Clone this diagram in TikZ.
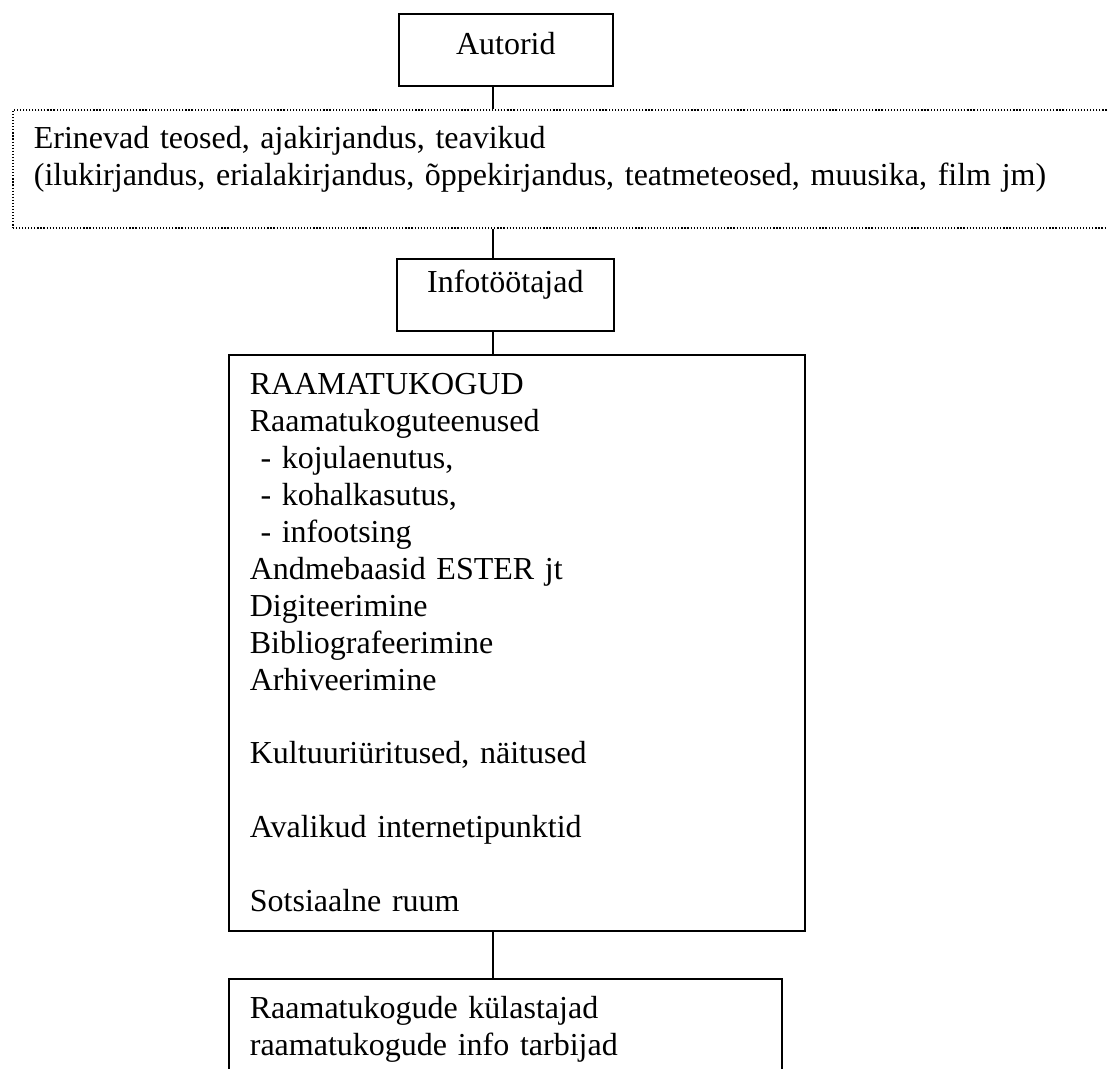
\documentclass[tikz,border=0pt]{standalone}
\usepackage{fontspec}
\setmainfont{Liberation Serif}

\begin{document}
\begin{tikzpicture}[x=0.375pt,y=-0.375pt]
        \tikzstyle{every node}=[font=\fontsize{12pt}{13.84pt}\selectfont, inner sep=0pt, line width=0.6pt]
        \tikzstyle{titlebox}=[draw, anchor=north west, align=center]
        \tikzstyle{listbox}=[draw, anchor=north west, align=left, inner xsep=7.9pt, text height=15pt]
        \clip (0,0) rectangle (1107,1068);
        \fill[white] (0,0) rectangle (1107,1068);

        \node[titlebox, minimum width=80.25pt, text height=15.4pt, text depth=11.6pt] (autorid) at (398,13) {Autorid};

        \node[listbox, dash pattern=on 0.45pt off 0.7pt, text width=410.95pt, text height=14.6pt, text depth=29.65pt] (teosed) at (12,109)
            {Erinevad teosed, ajakirjandus, teavikud\\(ilukirjandus, erialakirjandus, õppekirjandus, teatmeteosed, muusika, film jm)};

        \node[titlebox, minimum width=81.4pt, text height=12.75pt, text depth=14.25pt] (info) at (396,258) {Infotöötajad};

        \node[listbox, text width=200.2pt, text depth=201pt] (raamatukogud) at (228,354)
            {RAAMATUKOGUD\\
             Raamatukoguteenused\\
             \ - kojulaenutus,\\
             \ - kohalkasutus,\\
             \ - infootsing\\
             Andmebaasid ESTER jt\\
             Digiteerimine\\
             Bibliografeerimine\\
             Arhiveerimine\\[13.84pt]
             Kultuuriüritused, näitused\\[13.84pt]
             Avalikud internetipunktid\\[13.84pt]
             Sotsiaalne ruum};

        \node[listbox, text width=191.6pt, text depth=31pt] (lugejad) at (228,978)
            {Raamatukogude külastajad\\raamatukogude info tarbijad};

        \coordinate (telg) at (493,0);
        \draw[line width=0.6pt] (autorid.south -| telg) -- (teosed.north -| telg);
        \draw[line width=0.6pt] (teosed.south -| telg) -- (info.north -| telg);
        \draw[line width=0.6pt] (info.south -| telg) -- (raamatukogud.north -| telg);
        \draw[line width=0.6pt] (raamatukogud.south -| telg) -- (lugejad.north -| telg);

    \end{tikzpicture}
\end{document}
